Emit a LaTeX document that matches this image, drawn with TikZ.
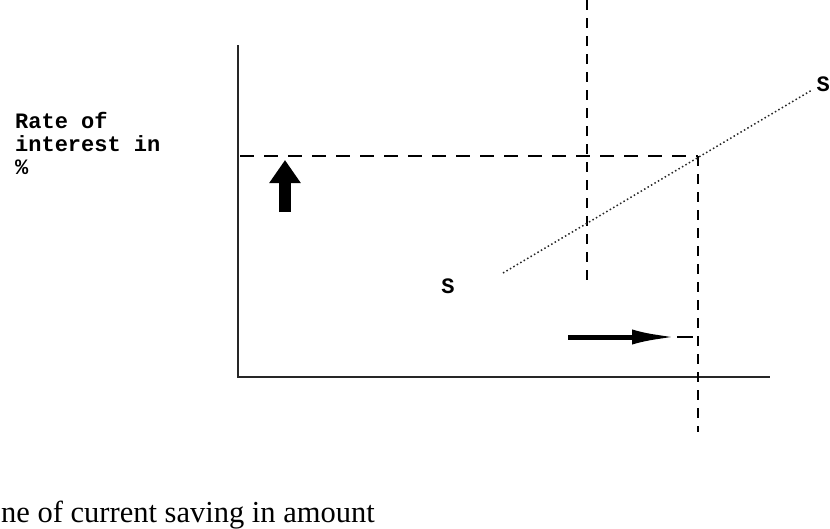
\documentclass[tikz,border=0pt]{standalone}
\usepackage{fontspec}
\setmainfont{Liberation Serif}
\setmonofont{Liberation Mono}
\usetikzlibrary{arrows.meta, positioning}

\tikzset{
  %% axes of the plot
  axisline/.style={draw=black!85, line width=1.8pt},
  %% dashed guide lines
  hguide/.style={draw=black, line width=1.4pt, dash pattern=on 14pt off 10pt},
  vguide/.style={draw=black, line width=1.4pt, dash pattern=on 10pt off 8pt},
  %% supply curve
  supply/.style={draw=black!85, line width=1.5pt, dash pattern=on 1.5pt off 2.5pt},
  %% fat arrows
  uparr/.style={-{Triangle[length=23pt,width=30pt]}, line width=12pt},
  rtarr/.style={-{Latex[length=45pt,width=15pt]}, line width=5pt},
  ttlabel/.style={font=\ttfamily\bfseries\fontsize{22}{23}\selectfont,
                  inner sep=0pt, align=left},
  slabel/.style={font=\ttfamily\bfseries\fontsize{22}{24}\selectfont, inner sep=0pt},
}

\begin{document}
\begin{tikzpicture}[x=1pt, y=-1pt]
  \useasboundingbox (0,0) rectangle (830,528);

  %% axes
  \coordinate (origin) at (238,377);
  \coordinate (ytop)   at (238,45);
  \coordinate (xend)   at (770,377);
  \draw[axisline] (ytop) -- (origin) -- (xend);

  %% guide lines
  \coordinate (hstart) at (240,156);
  \coordinate (eq)     at (698,156);
  \coordinate (eqlow)  at (698,432);
  \coordinate (oldtop) at (587,0);
  \coordinate (oldlow) at (587,285);
  \draw[hguide] (hstart) -- (eq);
  \draw[vguide] (eq) -- (eqlow);
  \draw[vguide] (oldtop) -- (oldlow);

  %% supply curve S--S
  \node[slabel] (slow) at (448,286) {S};
  \node[slabel, anchor=east] (shigh) at (830,84) {S};
  \coordinate (sa) at (503,273);
  \coordinate (sb) at (812,90);
  \draw[supply] (sa) -- (sb);

  %% arrows
  \coordinate (ubot) at (285,212);
  \coordinate (utop) at (285,160);
  \draw[uparr] (ubot) -- (utop);
  \coordinate (rbeg) at (568,337);
  \coordinate (rend) at (677,337);
  \coordinate (rtip) at (693,337);
  \draw[rtarr] (rbeg) -- (rend);
  \draw[line width=1.6pt] (rend) -- (rtip);

  %% texts
  \node[ttlabel, anchor=north west] (ylabel) at (15,112)
       {Rate of\\interest in\\\%};
  \node[font=\fontsize{30.5}{32}\selectfont, inner sep=0pt, anchor=base west] (xlabel) at (1,522)
       {ne of current saving in amount};
\end{tikzpicture}
\end{document}
